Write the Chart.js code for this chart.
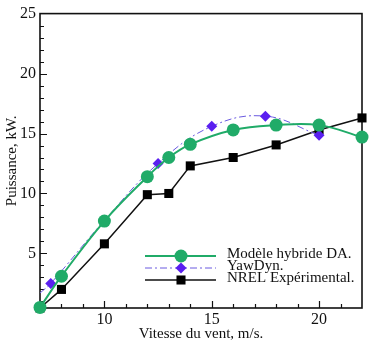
<!DOCTYPE html>
<html>
<head>
<meta charset="utf-8">
<script src="https://cdn.jsdelivr.net/npm/chart.js@4.4.0/dist/chart.umd.min.js"></script>
<style>
  html, body { margin: 0; padding: 0; background: #fff; }
</style>
</head>
<body>
<canvas id="chart" width="370" height="343"></canvas>
<script>
// wind speed (m/s) and power (kW)
const speedsModel = [7, 8, 10, 12, 13, 14, 16, 18, 20, 22];
const powerModel  = [0.5, 3.1, 7.7, 11.4, 13.0, 14.1, 15.3, 15.7, 15.7, 14.7];

const speedsYaw = [7, 7.5, 10, 12.5, 15, 17.5, 20];
const powerYaw  = [1.7, 2.5, 7.75, 12.5, 15.6, 16.45, 14.85];

const speedsNrel = [7, 8, 10, 12, 13, 14, 16, 18, 20, 22];
const powerNrel  = [0.45, 2.0, 5.8, 9.9, 10.0, 12.3, 13.0, 14.05, 15.3, 16.3];

const seriesNames = ['Modèle hybride DA.', 'YawDyn.', 'NREL Expérimental.'];
const xTicks = [10, 15, 20];
const yTicks = [5, 10, 15, 20, 25];

const serif = "'Liberation Serif', 'Times New Roman', serif";

function toPoints(xs, ys) {
    return xs.map((x, i) => ({ x: x, y: ys[i] }));
}

function drawMark(ctx, style, x, y, r, color) {
    ctx.save();
    ctx.fillStyle = color;
    ctx.beginPath();
    if (style === 'circle') {
        ctx.arc(x, y, r, 0, Math.PI * 2);
    } else if (style === 'rectRot') {
        ctx.moveTo(x, y - r);
        ctx.lineTo(x + r, y);
        ctx.lineTo(x, y + r);
        ctx.lineTo(x - r, y);
        ctx.closePath();
    } else {
        const h = r * Math.SQRT1_2;
        ctx.rect(x - h, y - h, 2 * h, 2 * h);
    }
    ctx.fill();
    ctx.restore();
}

// box around the plot + inward major/minor ticks
const frameAndTicks = {
    id: 'frameAndTicks',
    beforeDatasetsDraw(chart) {
        const ctx = chart.ctx;
        const a = chart.chartArea;
        const xs = chart.scales.x;
        const ys = chart.scales.y;
        ctx.save();
        ctx.strokeStyle = '#111';
        ctx.lineWidth = 1.6;
        ctx.strokeRect(a.left, a.top, a.right - a.left, a.bottom - a.top);

        ctx.lineWidth = 1.2;
        ctx.beginPath();
        for (let v = 1; v < 25; v++) {
            const py = Math.round(ys.getPixelForValue(v)) + 0.5;
            if (py > a.bottom - 1) continue;
            const len = v % 5 === 0 ? 7 : 4;
            ctx.moveTo(a.left, py);
            ctx.lineTo(a.left + len, py);
        }
        for (let v = 8; v < 22; v++) {
            const px = Math.round(xs.getPixelForValue(v)) + 0.5;
            const len = v % 5 === 0 ? 7 : 4;
            ctx.moveTo(px, a.bottom);
            ctx.lineTo(px, a.bottom - len);
        }
        ctx.stroke();
        ctx.restore();
    }
};

// legend drawn inside the plot, rows set close like the original
const legendBox = {
    id: 'legendBox',
    afterDraw(chart) {
        const ctx = chart.ctx;
        ctx.save();
        chart.data.datasets.forEach((ds, i) => {
            const y = 256 + i * 12;
            ctx.strokeStyle = ds.borderColor;
            ctx.lineWidth = ds.borderWidth;
            ctx.setLineDash(ds.borderDash || []);
            ctx.beginPath();
            ctx.moveTo(145, y);
            ctx.lineTo(216, y);
            ctx.stroke();
            ctx.setLineDash([]);
            drawMark(ctx, ds.pointStyle, 181, y, ds.legendRadius, ds.pointBackgroundColor);
            ctx.fillStyle = '#111';
            ctx.font = '15px ' + serif;
            ctx.textBaseline = 'middle';
            ctx.textAlign = 'left';
            ctx.fillText(ds.label, 227, y - 2);
        });
        ctx.restore();
    }
};

const data = {
    datasets: [
        {
            label: seriesNames[0],
            data: toPoints(speedsModel, powerModel),
            borderColor: '#20ab68',
            backgroundColor: '#20ab68',
            pointBackgroundColor: '#20ab68',
            pointBorderWidth: 0,
            borderWidth: 2,
            pointStyle: 'circle',
            pointRadius: 6.5,
            legendRadius: 6.5,
            tension: 0.4,
            clip: false
        },
        {
            label: seriesNames[1],
            data: toPoints(speedsYaw, powerYaw),
            borderColor: '#6a5ae0',
            backgroundColor: '#5a1ff0',
            pointBackgroundColor: '#5a1ff0',
            pointBorderWidth: 0,
            borderWidth: 1,
            borderDash: [7, 3, 2, 3],
            pointStyle: 'rectRot',
            pointRadius: [0, 5.5, 5.5, 5.5, 5.5, 5.5, 5.5],
            legendRadius: 5.5,
            tension: 0.4,
            clip: false
        },
        {
            label: seriesNames[2],
            data: toPoints(speedsNrel, powerNrel),
            borderColor: '#111',
            backgroundColor: '#000',
            pointBackgroundColor: '#000',
            pointBorderWidth: 0,
            borderWidth: 1.5,
            pointStyle: 'rect',
            pointRadius: 6.4,
            legendRadius: 6.4,
            tension: 0,
            clip: false
        }
    ]
};

const config = {
    type: 'line',
    data: data,
    options: {
        responsive: false,
        animation: false,
        layout: { padding: { top: 13, right: 8, left: 0, bottom: 0 } },
        plugins: {
            legend: { display: false },
            tooltip: { enabled: false }
        },
        scales: {
            x: {
                type: 'linear',
                min: 7,
                max: 22,
                afterBuildTicks: (s) => { s.ticks = xTicks.map(v => ({ value: v })); },
                afterFit: (s) => { s.height = 35; },
                grid: { display: false, drawTicks: false },
                border: { display: false },
                ticks: {
                    font: { family: serif, size: 16 },
                    color: '#111',
                    padding: 2,
                    maxRotation: 0
                },
                title: {
                    display: true,
                    text: 'Vitesse du vent, m/s.',
                    font: { family: serif, size: 15 },
                    color: '#111',
                    padding: 0
                }
            },
            y: {
                type: 'linear',
                min: 0.45,
                max: 25,
                afterBuildTicks: (s) => { s.ticks = yTicks.map(v => ({ value: v })); },
                afterFit: (s) => { s.width = 40; },
                grid: { display: false, drawTicks: false },
                border: { display: false },
                ticks: {
                    font: { family: serif, size: 16 },
                    color: '#111',
                    padding: 4
                },
                title: {
                    display: true,
                    text: 'Puissance, kW.',
                    font: { family: serif, size: 15 },
                    color: '#111',
                    padding: { top: 3, bottom: 0 }
                }
            }
        }
    },
    plugins: [frameAndTicks, legendBox]
};

new Chart(document.getElementById('chart'), config);
</script>
</body>
</html>
